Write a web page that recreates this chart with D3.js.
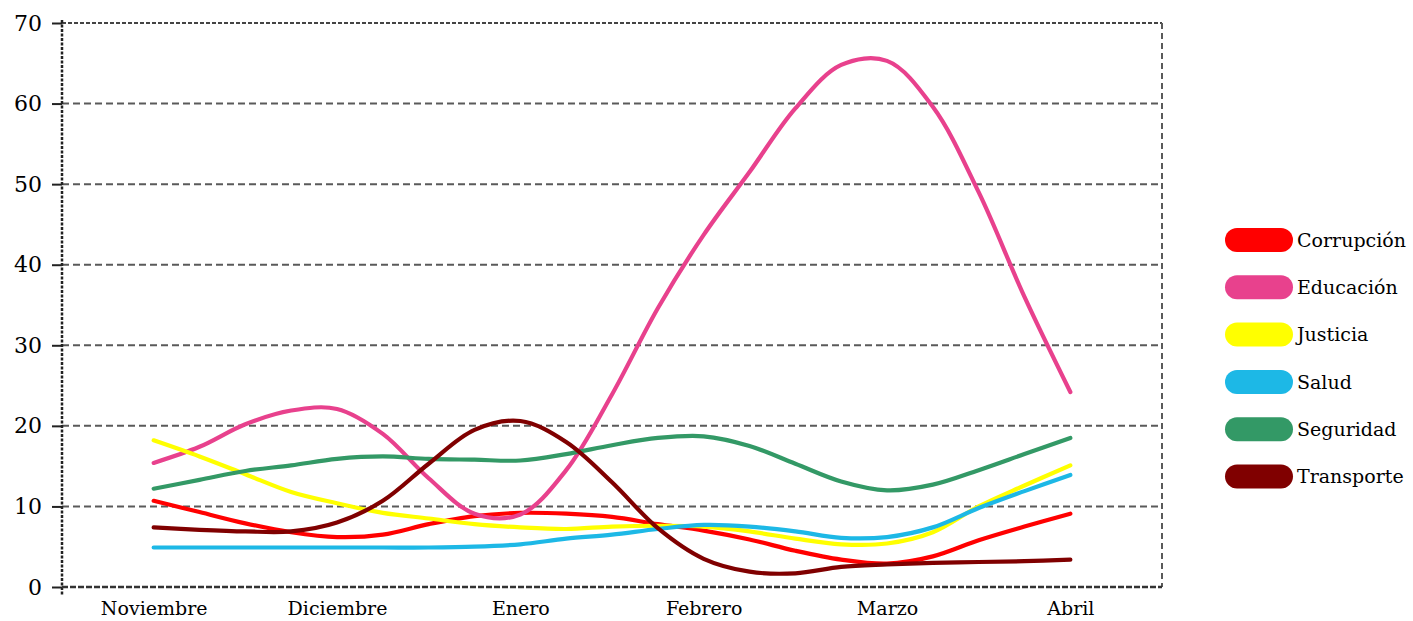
<!DOCTYPE html>
<html><head><meta charset="utf-8">
<script src="https://cdn.jsdelivr.net/npm/d3@7"></script>
<style>body{margin:0;background:#fff}svg{display:block}text{font-family:Georgia,"DejaVu Serif",serif;fill:#000}</style>
</head><body><svg id="c" width="1413" height="621"></svg>
<script>
const months = ["Noviembre","Diciembre","Enero","Febrero","Marzo","Abril"];
const samplePos = [0,0.25,0.5,0.75,1,1.25,1.5,1.75,2,2.25,2.5,2.75,3,3.25,3.5,3.75,4,4.25,4.5,4.75,5];
const yTicks = [0,10,20,30,40,50,60,70];
const seriesNames = ["Corrupción","Educación","Justicia","Salud","Seguridad","Transporte"];
const seriesColors = ["#FF0000","#E8418D","#FFFF00","#1DB8E6","#339966","#800000"];
const corrupcion = [10.7,9.3,7.9,6.8,6.2,6.5,7.8,8.8,9.2,9.1,8.7,7.8,7.0,5.9,4.5,3.4,2.9,3.8,5.8,7.5,9.1];
const educacion  = [15.4,17.4,20.2,21.9,22.1,19.0,13.5,9.1,9.0,14.5,23.9,34.6,43.7,51.5,59.4,64.8,65.3,59.6,49.0,36.0,24.2];
const justicia   = [18.2,16.2,14.0,11.8,10.4,9.2,8.5,7.8,7.4,7.2,7.5,7.6,7.5,6.9,6.0,5.3,5.4,6.8,10.0,12.6,15.1];
const salud      = [4.9,4.9,4.9,4.9,4.9,4.9,4.9,5.0,5.3,6.0,6.5,7.2,7.7,7.5,6.9,6.1,6.2,7.4,9.8,11.9,13.9];
const seguridad  = [12.2,13.3,14.4,15.1,15.9,16.2,15.9,15.8,15.7,16.5,17.6,18.5,18.7,17.5,15.3,13.1,12.0,12.7,14.5,16.5,18.5];
const transporte = [7.4,7.1,6.9,6.9,8.0,10.7,15.3,19.5,20.6,18.0,13.0,7.3,3.5,1.9,1.7,2.5,2.8,3.0,3.1,3.2,3.4];
const seriesValues = [corrupcion,educacion,justicia,salud,seguridad,transporte];

const svg = d3.select("#c");
const L = 62, R = 1162, T = 23, B = 587;
const x = d3.scaleLinear().domain([-0.5, 5.5]).range([L, R]);
const y = d3.scaleLinear().domain([0, 70]).range([B, T]);

// gridlines
svg.append("g").selectAll("line").data(yTicks.filter(v => v > 0 && v < 70)).join("line")
  .attr("x1", L).attr("x2", R).attr("y1", d => y(d)).attr("y2", d => y(d))
  .attr("stroke", "#5a5a5a").attr("stroke-width", 2).attr("stroke-dasharray", "7,4");
// top border
svg.append("line").attr("x1", L).attr("x2", R).attr("y1", y(70)).attr("y2", y(70))
  .attr("stroke", "#444").attr("stroke-width", 2).attr("stroke-dasharray", "4,2");
// right border
svg.append("line").attr("x1", R).attr("x2", R).attr("y1", y(70)).attr("y2", B)
  .attr("stroke", "#5a5a5a").attr("stroke-width", 2).attr("stroke-dasharray", "6,4");

// y axis
const yAxis = svg.append("g").attr("transform", `translate(${L},0)`)
  .call(d3.axisLeft(y).tickValues(yTicks).tickSize(10).tickPadding(10).tickFormat(d3.format("d")));
yAxis.select(".domain").remove();
yAxis.selectAll(".tick line").attr("stroke", "#222").attr("stroke-width", 2);
yAxis.selectAll("text").attr("font-size", 22).attr("font-family", 'Georgia,"DejaVu Serif",serif').attr("fill", "#000");
svg.append("line").attr("x1", L).attr("x2", L).attr("y1", T - 3).attr("y2", B + 9)
  .attr("stroke", "#222").attr("stroke-width", 2.5).attr("stroke-dasharray", "3,1.5");

// x axis
const xAxis = svg.append("g").attr("transform", `translate(0,${B})`)
  .call(d3.axisBottom(x).tickValues(d3.range(months.length)).tickSize(0).tickPadding(15).tickFormat(i => months[i]));
xAxis.select(".domain").remove();
xAxis.selectAll("text").attr("font-size", 19).attr("font-family", 'Georgia,"DejaVu Serif",serif').attr("fill", "#000");
svg.append("line").attr("x1", L).attr("x2", R).attr("y1", B).attr("y2", B)
  .attr("stroke", "#333").attr("stroke-width", 2.5).attr("stroke-dasharray", "6,2");

// lines
const line = d3.line().x((d, i) => x(samplePos[i])).y(d => y(d)).curve(d3.curveCatmullRom.alpha(0.5));
svg.append("g").selectAll("path").data(seriesValues).join("path")
  .attr("d", d => line(d)).attr("fill", "none")
  .attr("stroke", (d, i) => seriesColors[i]).attr("stroke-width", 4.2)
  .attr("stroke-linecap", "round").attr("stroke-linejoin", "round");

// legend
const lg = svg.append("g").attr("transform", "translate(1225,240)");
const item = lg.selectAll("g").data(seriesNames).join("g").attr("transform", (d, i) => `translate(0,${i * 47.3})`);
item.append("rect").attr("x", 0).attr("y", -12).attr("width", 68).attr("height", 24).attr("rx", 12)
  .attr("fill", (d, i) => seriesColors[i]);
item.append("text").attr("x", 72).attr("y", 0).attr("dy", "0.35em").attr("font-size", 19).text(d => d);
</script></body></html>
